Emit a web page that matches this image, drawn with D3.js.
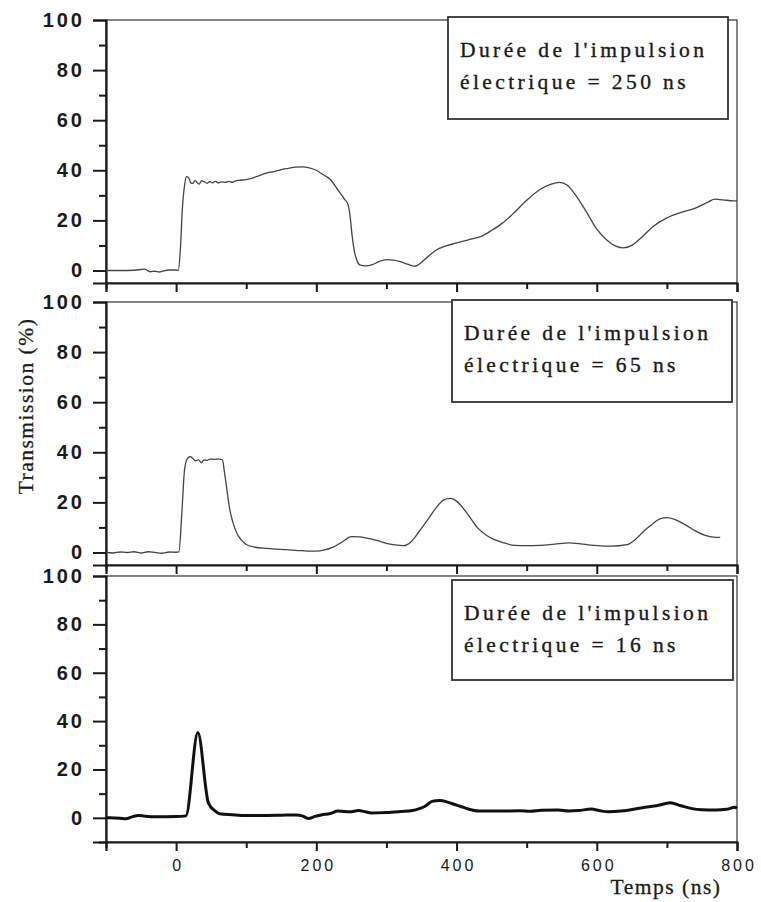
<!DOCTYPE html>
<html><head><meta charset="utf-8">
<script src="https://cdn.jsdelivr.net/npm/d3@7"></script>
<style>
html,body{margin:0;padding:0;background:#fff;}
svg{display:block;}
</style></head>
<body>
<script>
// ---------- DATA ----------
const xMajorTicks = [0, 200, 400, 600, 800];
const xMinorTicks = [-100, 100, 300, 500, 700];
const yMajorTicks = [0, 20, 40, 60, 80, 100];
const yMinorTicks = [10, 30, 50, 70, 90];
const yMinorTicksBottom = [-10, 10, 30, 50, 70, 90];

const legendLine1 = "Durée de l'impulsion";
const legendTop = "électrique = 250 ns";
const legendMid = "électrique = 65 ns";
const legendBot = "électrique = 16 ns";
const yTitle = "Transmission (%)";
const xTitle = "Temps (ns)";

const tTop = [-100,-80,-60,-45,-37,-30,-24,-18,-10,0,3,6,9,12,15,18,21,24,27,30,33,36,40,44,48,52,56,60,65,70,75,80,85,90,100,110,120,130,140,150,160,170,180,190,200,210,220,230,240,245,248,251,254,258,262,270,280,290,300,310,320,330,340,345,355,370,385,400,420,435,450,465,480,500,520,535,547,558,570,585,600,615,628,638,650,665,680,700,720,740,760,768,780,795,800];
const vTop = [0,0,0.1,0.5,-0.5,-0.3,-0.6,-0.2,0.2,0.2,0,8,25,34,37.5,37,35,34.8,36,35,34.5,35.8,35.5,34.8,35.5,35,35.6,35,35.4,35.2,35.6,35.2,35.8,36,36.3,37,38,39,39.5,40.3,40.8,41.3,41.4,41,40,38.2,36.3,32.5,28.5,26.5,22,14,8,4,2.2,1.8,2.3,3.6,4.3,4.1,3.5,2.5,1.7,2.2,4.5,8,9.8,11,12.5,13.6,16,18.8,22.5,28,32.5,34.5,35.2,34,30,23.5,16.5,12,9.6,9,10,13.5,17.5,21,23.2,24.8,27.5,28.5,28.2,27.8,27.8];

const tMid = [-100,-90,-80,-70,-60,-50,-40,-30,-20,-10,0,4,8,12,16,20,24,28,32,36,40,44,48,55,62,66,69,72,76,81,87,93,100,111,130,158,180,199,212,223,237,250,262,276,290,300,312,324,336,347,360,371,382,392,400,407,418,430,442,454,468,483,500,519,540,560,580,601,620,643,655,667,680,690,700,710,726,740,756,766,776];
const vMid = [0,-0.2,0.2,0,0.3,-0.2,0.3,0,-0.3,0.2,0.1,0.2,15,33,37.5,38.3,37.5,36.6,37,35.8,37,36.8,37.3,37.2,37.3,37,32,26,18,12,7.5,5,3.2,2.2,1.6,1.1,0.7,0.5,1,2,4.2,6.3,6.2,5.5,4.5,3.6,3,2.7,4.5,8.5,13.5,17.9,21,21.6,20.5,18.5,14.5,9.8,7,5.1,3.8,2.8,2.7,2.8,3.3,3.8,3.3,2.7,2.5,3.1,5.2,8.5,11.5,13.4,13.9,13.3,11.1,8.7,6.7,6.1,6];

const tBot = [-100,-95,-80,-72,-62,-54,-45,-30,0,14,31,46,55,62,80,100,130,150,171,180,189,198,207,220,231,248,260,270,278,300,320,337,347,355,365,376,387,397,405,414,432,460,490,505,521,545,560,574,592,605,616,635,663,685,705,720,734,750,770,785,797,800];
const vBot = [0,0,-0.2,-0.4,0.5,1,0.7,0.4,0.5,0.8,35.3,6.2,3,1.7,1.3,1,1,1.1,1.2,0.8,-0.3,0.6,1.2,1.8,2.8,2.5,3,2.5,2,2.2,2.6,3,3.8,4.8,6.8,7.2,6.5,5.5,4.8,3.9,2.8,2.8,2.9,2.7,3.1,3.2,2.8,3,3.6,2.9,2.5,2.8,4.1,5,6.2,5,3.9,3.3,3.2,3.5,4.4,4];

// ---------- LAYOUT ----------
const W = 761, H = 902;
const svg = d3.select("body").append("svg").attr("width", W).attr("height", H);
const x = d3.scaleLinear().domain([-100, 800]).range([106, 737]);

const panels = [
  {t: tTop, v: vTop, dom: [-5, 100], range: [283, 20], legend: legendTop, box: [448, 17, 280, 102], lw: 1.3, minor: yMinorTicks},
  {t: tMid, v: vMid, dom: [-5, 100], range: [565, 302], legend: legendMid, box: [452, 300, 280, 102], lw: 1.3, minor: yMinorTicks},
  {t: tBot, v: vBot, dom: [-10, 100], range: [842, 576], legend: legendBot, box: [452, 580, 281, 100], lw: 3, minor: yMinorTicksBottom}
];

const ink = "#1a1a1a";
const serif = "Liberation Serif, 'Times New Roman', serif";

panels.forEach((p, i) => {
  const y = d3.scaleLinear().domain(p.dom).range(p.range);
  const g = svg.append("g");
  g.append("rect").attr("x", x.range()[0]).attr("y", p.range[1])
    .attr("width", x.range()[1] - x.range()[0]).attr("height", p.range[0] - p.range[1])
    .attr("fill", "none").attr("stroke", "#333").attr("stroke-width", 1.2);

  const yAx = g.append("g").attr("transform", `translate(${x.range()[0]},0)`)
    .call(d3.axisLeft(y).tickValues(yMajorTicks).tickSize(13).tickPadding(11).tickFormat(d3.format("d")));
  yAx.selectAll("line").attr("stroke", ink).attr("stroke-width", 2);
  yAx.select(".domain").attr("stroke", ink).attr("stroke-width", 2.2);
  yAx.selectAll("text").attr("font-family", "Liberation Sans, Arial, sans-serif")
    .attr("font-size", 20).attr("font-weight", "bold").attr("fill", ink)
    .attr("letter-spacing", "3px").attr("dx", "3px");
  const yMin = g.append("g").attr("transform", `translate(${x.range()[0]},0)`)
    .call(d3.axisLeft(y).tickValues(p.minor).tickSize(7).tickFormat(""));
  yMin.select(".domain").remove();
  yMin.selectAll("line").attr("stroke", ink).attr("stroke-width", 2);

  const xAx = g.append("g").attr("transform", `translate(0,${p.range[0]})`)
    .call(d3.axisBottom(x).tickValues(xMajorTicks).tickSize(9).tickPadding(9)
      .tickFormat(i === 2 ? d3.format("d") : ""));
  xAx.selectAll("line").attr("stroke", ink).attr("stroke-width", 2);
  xAx.select(".domain").attr("stroke", ink).attr("stroke-width", 2.2);
  xAx.selectAll("text").attr("font-family", "Liberation Sans, Arial, sans-serif")
    .attr("font-size", 16).attr("fill", ink).attr("letter-spacing", "3px").attr("dx", "1.5px");
  const xMin = g.append("g").attr("transform", `translate(0,${p.range[0]})`)
    .call(d3.axisBottom(x).tickValues(xMinorTicks).tickSize(6).tickFormat(""));
  xMin.select(".domain").remove();
  xMin.selectAll("line").attr("stroke", ink).attr("stroke-width", 2);

  const pts = p.t.map((t, k) => [t, p.v[k]]);
  g.append("path").datum(pts)
    .attr("d", d3.line().x(d => x(d[0])).y(d => y(d[1])).curve(d3.curveMonotoneX))
    .attr("fill", "none").attr("stroke", i === 2 ? "#111" : "#444")
    .attr("stroke-width", p.lw).attr("stroke-linejoin", "round");

  const [bx, by, bw, bh] = p.box;
  g.append("rect").attr("x", bx).attr("y", by).attr("width", bw).attr("height", bh)
    .attr("fill", "#fff").attr("stroke", "#333").attr("stroke-width", 1.8);
  const tx = g.append("text")
    .attr("font-family", serif).attr("font-size", 21.5).attr("fill", ink)
    .attr("stroke", ink).attr("stroke-width", 0.35).attr("letter-spacing", "3.4px");
  tx.append("tspan").attr("x", bx + 12).attr("y", by + 40).text(legendLine1);
  tx.append("tspan").attr("x", bx + 12).attr("y", by + 72).text(p.legend);
});

svg.append("text").attr("transform", "translate(33,406) rotate(-90)")
  .attr("text-anchor", "middle").attr("font-family", serif)
  .attr("font-size", 21.5).attr("fill", ink).attr("stroke", ink).attr("stroke-width", 0.3)
  .attr("letter-spacing", "1.5px").text(yTitle);
svg.append("text").attr("x", 666).attr("y", 894)
  .attr("text-anchor", "middle").attr("font-family", serif)
  .attr("font-size", 21.5).attr("fill", ink).attr("stroke", ink).attr("stroke-width", 0.3)
  .attr("letter-spacing", "1.5px").text(xTitle);
</script>
</body></html>
